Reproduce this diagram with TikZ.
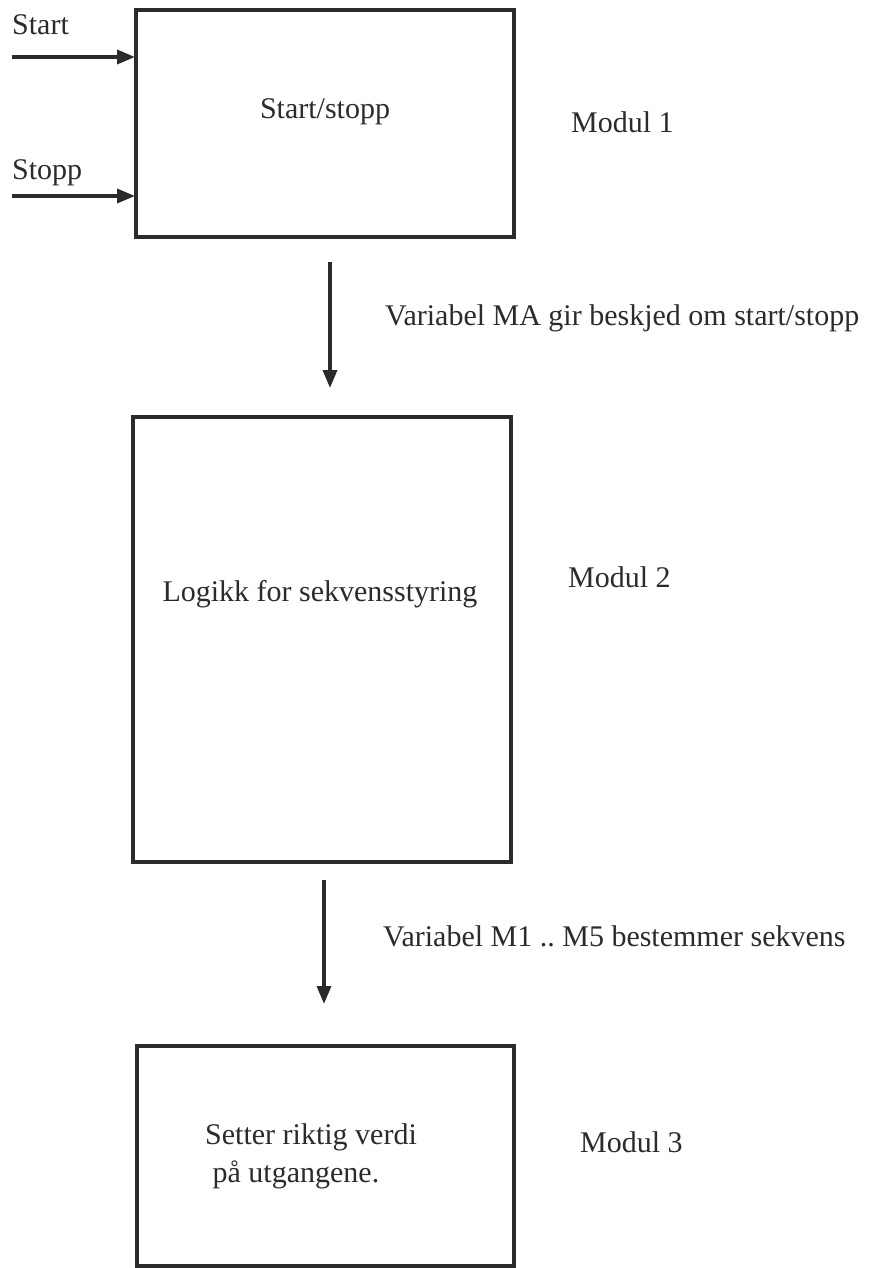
\documentclass[tikz,border=0pt]{standalone}
\usepackage{fontspec}
\setmainfont{Liberation Serif}
\usetikzlibrary{arrows.meta}
\frenchspacing
\definecolor{ink}{HTML}{2B2B2B}
\tikzset{
  modbox/.style={draw=ink, line width=4pt, inner sep=0pt},
  conn/.style={draw=ink, line width=3.6pt, -{Triangle[length=18pt,width=14pt]}},
  lbl/.style={inner sep=0pt, text=ink, font=\fontsize{30}{38}\selectfont},
}
\begin{document}
\begin{tikzpicture}[x=1pt,y=-1pt]
\useasboundingbox (0,0) rectangle (874,1268);
% boxes
\draw[modbox] (136,10) rectangle (514,237);
\node[lbl] (t1) at (325,112) {Start/stopp};
\draw[modbox] (133,417) rectangle (511,862);
\node[lbl] (t2) at (320,594) {Logikk for sekvensstyring};
\draw[modbox] (137,1046) rectangle (514,1266);
\node[lbl, align=left, anchor=west] (t3) at (205,1156) {Setter riktig verdi\\\ p\r{a} utgangene.};
% inputs
\node[lbl, anchor=west] (lstart) at (12,25) {Start};
\node[lbl, anchor=west] (lstopp) at (12,173) {Stopp};
\coordinate (s0) at (12,57);
\coordinate (s1) at (135,57);
\coordinate (p0) at (12,196);
\coordinate (p1) at (135,196);
\draw[conn] (s0) -- (s1);
\draw[conn] (p0) -- (p1);
% vertical connectors
\coordinate (a0) at (330,262);
\coordinate (a1) at (330,388);
\coordinate (c0) at (324,880);
\coordinate (c1) at (324,1004);
\draw[conn] (a0) -- (a1);
\draw[conn] (c0) -- (c1);
\node[lbl, anchor=west] (v1) at (385,318) {Variabel MA gir beskjed om start/stopp};
\node[lbl, anchor=west] (v2) at (383,936) {Variabel M1 .. M5 bestemmer sekvens};
% module labels
\node[lbl, anchor=west] (m1) at (571,122) {Modul 1};
\node[lbl, anchor=west] (m2) at (568,577) {Modul 2};
\node[lbl, anchor=west] (m3) at (580,1142) {Modul 3};
\end{tikzpicture}
\end{document}
